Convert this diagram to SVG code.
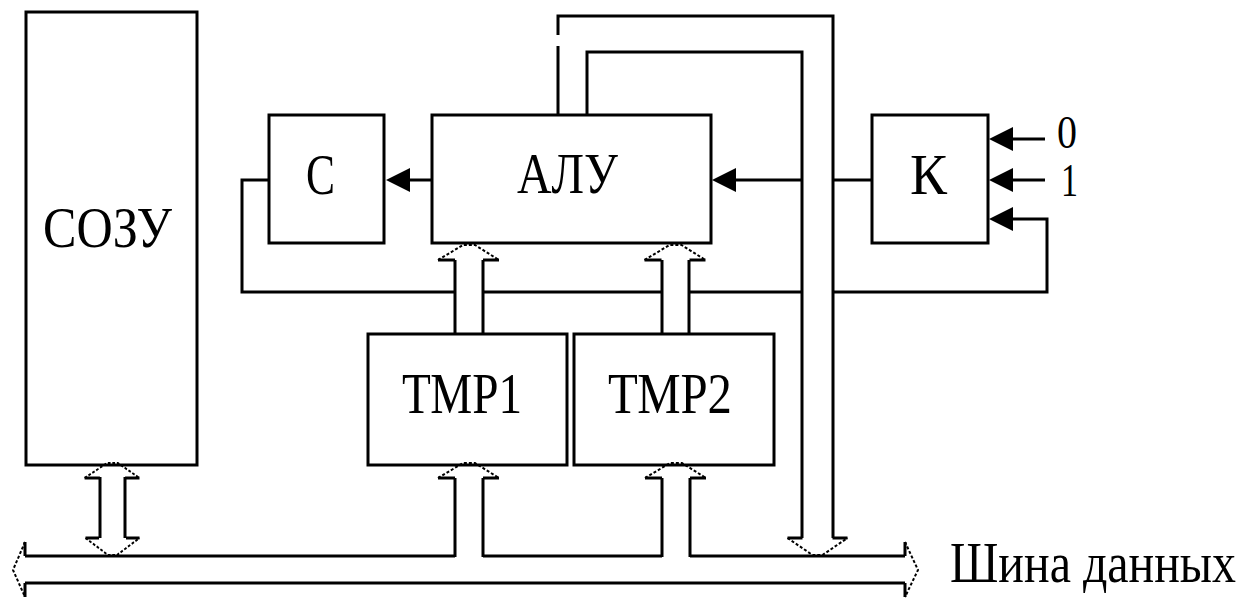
<svg xmlns="http://www.w3.org/2000/svg" xmlns:xlink="http://www.w3.org/1999/xlink" width="1250" height="600" viewBox="0 0 1250 600">
<style>
.box{fill:none;stroke:#000;stroke-width:3}
.ln{fill:none;stroke:#000;stroke-width:3}
.dg{fill:none;stroke:#000;stroke-width:2;stroke-dasharray:3 2}
.ah{fill:#000}
.t{font-family:"Liberation Serif","Times New Roman",serif;font-size:58px;fill:#000}
</style>
<defs>
<path id="ahL" class="ah" d="M0,0 L24,-12 L24,12 Z"/>
<g id="hu">
<path class="ln" d="M-31,0 L-14,0 M14,0 L30,0"/>
<path class="dg" d="M-31,0 L-6,-15 L6,-15 L30,0"/>
</g>
<g id="hd">
<path class="ln" d="M-30,0 L-15,0 M15,0 L30,0"/>
<path class="dg" d="M-30,0 L-5,17 L5,17 L30,0"/>
</g>
</defs>
<rect width="1250" height="600" fill="#fff"/>

<g id="connectors">
<!-- ALU -> C -->
<path class="ln" d="M432,180 L400,180"/>
<use xlink:href="#ahL" x="386" y="180"/>
<!-- feedback loop -->
<path class="ln" d="M269,180 L242,180 L242,292 L455,292"/>
<path class="ln" d="M483,292 L662,292"/>
<path class="ln" d="M690,292 L802,292"/>
<path class="ln" d="M833,292 L1047,292 L1047,219 L1000,219"/>
<use xlink:href="#ahL" x="989" y="219"/>
<!-- K inputs -->
<path class="ln" d="M1045,139 L1000,139"/>
<use xlink:href="#ahL" x="989" y="139"/>
<path class="ln" d="M1045,180 L1000,180"/>
<use xlink:href="#ahL" x="989" y="180"/>
<!-- K -> bus, bus -> ALU -->
<path class="ln" d="M872,180 L833,180"/>
<path class="ln" d="M802,180 L725,180"/>
<use xlink:href="#ahL" x="712" y="180"/>
<!-- top bus from ALU -->
<path class="ln" d="M558,115 L558,46 M558,35 L558,16 L833,16 L833,538"/>
<path class="ln" d="M587,115 L587,52 L802,52 L802,538"/>
<use xlink:href="#hd" x="817.5" y="538"/>
<!-- main data bus -->
<path class="ln" d="M25,556 L455,556 M483,556 L662,556 M690,556 L905,556"/>
<path class="ln" d="M25,583 L905,583"/>
<path class="ln" d="M25,556 L25,542 M25,583 L25,597"/>
<path class="dg" d="M25,542 L13,570 L25,597"/>
<path class="ln" d="M905,556 L905,542 M905,583 L905,597"/>
<path class="dg" d="M905,542 L918,570 L905,597"/>
<!-- СОЗУ <-> bus -->
<path class="ln" d="M100,477 L100,538 M125,477 L125,538"/>
<use xlink:href="#hu" x="112.5" y="478" transform="translate(11.25,0) scale(0.9,1)" />
<use xlink:href="#hd" x="125" y="538" transform="scale(0.9,1)"/>
<!-- bus -> TMP1 -->
<path class="ln" d="M455,478 L455,557 M483,478 L483,557"/>
<use xlink:href="#hu" x="469" y="478"/>
<!-- bus -> TMP2 -->
<path class="ln" d="M662,478 L662,557 M690,478 L690,557"/>
<use xlink:href="#hu" x="676" y="478"/>
<!-- TMP1 -> ALU -->
<path class="ln" d="M455,334 L455,260 M483,334 L483,260"/>
<use xlink:href="#hu" x="469" y="260"/>
<!-- TMP2 -> ALU -->
<path class="ln" d="M662,334 L662,260 M689,334 L689,260"/>
<use xlink:href="#hu" x="675.5" y="260"/>
</g>

<g id="sozu">
<rect class="box" x="26" y="12" width="171" height="453"/>
<text class="t" x="43" y="247" textLength="129" lengthAdjust="spacingAndGlyphs">СОЗУ</text>
</g>
<g id="c">
<rect class="box" x="269" y="115" width="115" height="128"/>
<text class="t" x="306" y="194" textLength="29" lengthAdjust="spacingAndGlyphs">С</text>
</g>
<g id="alu">
<rect class="box" x="432" y="115" width="279" height="128"/>
<text class="t" x="517" y="193" textLength="101" lengthAdjust="spacingAndGlyphs">АЛУ</text>
</g>
<g id="k">
<rect class="box" x="872" y="115" width="116" height="128"/>
<text class="t" x="910" y="194" textLength="37" lengthAdjust="spacingAndGlyphs">К</text>
<text class="t" style="font-size:46px" x="1057" y="148" textLength="20" lengthAdjust="spacingAndGlyphs">0</text>
<text class="t" style="font-size:46px" x="1061" y="196" textLength="17" lengthAdjust="spacingAndGlyphs">1</text>
</g>
<g id="tmp1">
<rect class="box" x="368" y="334" width="199" height="131"/>
<text class="t" x="402" y="413" textLength="120" lengthAdjust="spacingAndGlyphs">ТМР1</text>
</g>
<g id="tmp2">
<rect class="box" x="574" y="334" width="200" height="131"/>
<text class="t" x="608" y="413" textLength="124" lengthAdjust="spacingAndGlyphs">ТМР2</text>
</g>
<g id="bus-label">
<text class="t" style="font-size:48px" transform="translate(950,582) scale(1,1.2)" x="0" y="0" textLength="286" lengthAdjust="spacingAndGlyphs">Шина данных</text>
</g>
</svg>
